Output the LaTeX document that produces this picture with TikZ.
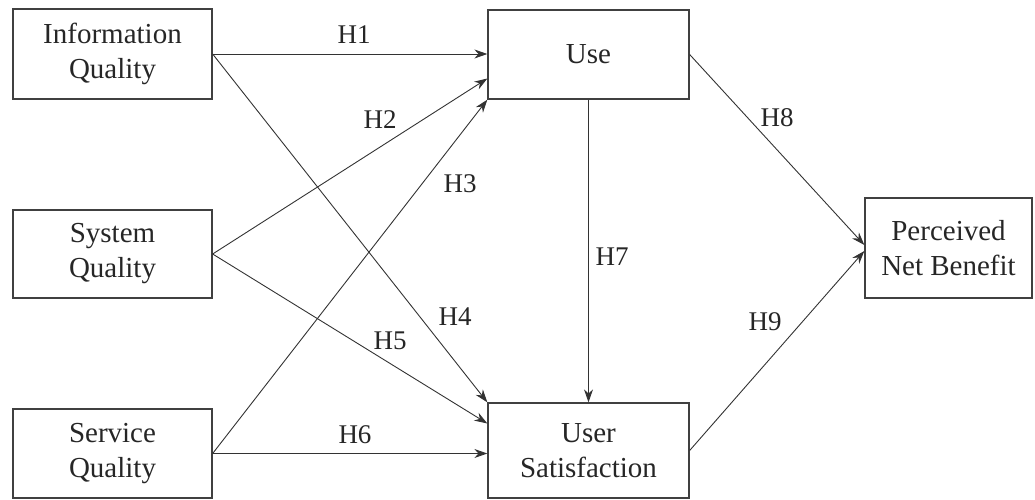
\documentclass[tikz,border=0pt]{standalone}
\usepackage{fontspec}
\setmainfont{Liberation Serif}
\usetikzlibrary{arrows.meta,calc}
\begin{document}
\begin{tikzpicture}[x=1pt,y=-1pt,
  box/.style={draw=black!75,line width=1.3pt,inner sep=0pt,align=center,
    font=\fontsize{29}{35}\selectfont,text=black!85},
  link/.style={draw=black!80,line width=0.9pt,-{Stealth[length=13pt,width=9pt]}},
  hlabel/.style={font=\fontsize{27}{30}\selectfont,text=black!85,inner sep=0pt}]
\useasboundingbox (0,0) rectangle (1035,500);
\node[box,minimum width=199pt,minimum height=90pt] (info) at (112.5,54) {Information\\Quality};
\node[box,minimum width=199pt,minimum height=88pt] (sys) at (112.5,254) {System\\Quality};
\node[box,minimum width=199pt,minimum height=89pt] (serv) at (112.5,453.5) {Service\\Quality};
\node[box,minimum width=201pt,minimum height=89pt] (use) at (588.5,54.5) {Use};
\node[box,minimum width=201pt,minimum height=95pt] (usat) at (588.5,450.5) {User\\Satisfaction};
\node[box,minimum width=167pt,minimum height=100pt] (pnb) at (948.5,248) {Perceived\\Net Benefit};
\draw[link] (info.east) -- (info.east -| use.west);
\draw[link] (info.east) -- (usat.north west);
\draw[link] (sys.east) -- ($(use.west)+(0,24)$);
\draw[link] (serv.east) -- (use.south west);
\draw[link] (sys.east) -- ($(usat.west)+(0,-27)$);
\draw[link] (serv.east) -- (serv.east -| usat.west);
\draw[link] (use.south) -- (usat.north);
\draw[link] (use.east) -- ($(pnb.west)+(0,-3)$);
\draw[link] (usat.east) -- ($(pnb.west)+(0,3)$);
\node[hlabel] (h1) at (354,35) {H1};
\node[hlabel] (h2) at (380,120) {H2};
\node[hlabel] (h3) at (460,184) {H3};
\node[hlabel] (h4) at (455,317) {H4};
\node[hlabel] (h5) at (390,341) {H5};
\node[hlabel] (h6) at (355,435) {H6};
\node[hlabel] (h7) at (612,257) {H7};
\node[hlabel] (h8) at (777,118) {H8};
\node[hlabel] (h9) at (765,322) {H9};
\end{tikzpicture}
\end{document}
